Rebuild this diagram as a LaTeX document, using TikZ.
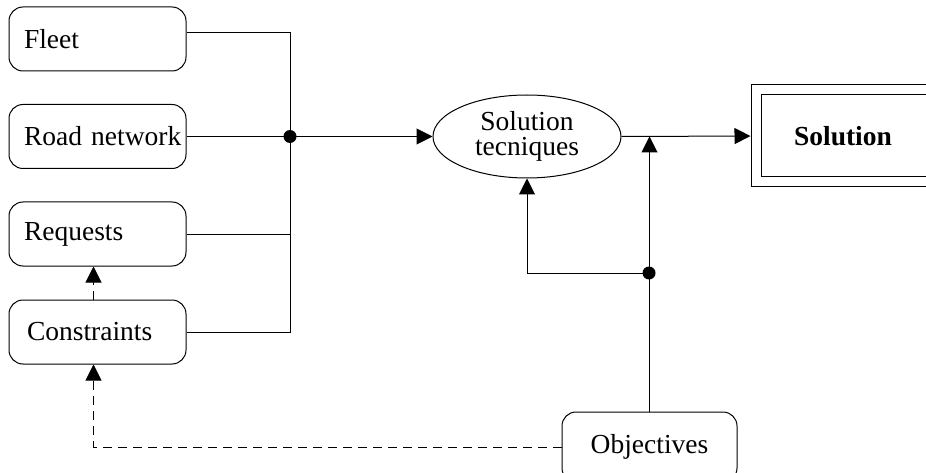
\documentclass[tikz,border=0pt]{standalone}
\usepackage{fontspec}
\setmainfont{Liberation Serif}
\usetikzlibrary{arrows.meta,shapes.geometric}
\begin{document}
\begin{tikzpicture}[x=1pt,y=-1pt,line width=1pt,
  font=\fontsize{27.5}{25}\selectfont,
  inbox/.style={draw,rounded corners=14pt,minimum width=177pt,minimum height=64pt,
    inner xsep=15pt,inner ysep=0pt,text width=147pt,align=left},
  objbox/.style={draw,rounded corners=14pt,minimum width=175pt,minimum height=70pt},
  tech/.style={draw,ellipse,minimum width=188pt,minimum height=83pt,inner sep=0pt,align=center},
  soltext/.style={minimum width=174pt,minimum height=92pt,outer sep=0pt,
    font=\fontsize{27.5}{25}\selectfont\bfseries},
  dbl/.style={draw,double,double distance=9pt},
  arr/.style={-{Triangle[length=16pt,width=16pt]}},
  dsh/.style={dash pattern=on 9pt off 6pt},
  dot/.style={circle,fill,inner sep=0pt,minimum size=13pt}]
\useasboundingbox (0,0) rectangle (926,473);
\node[inbox] (fleet) at (97.5,39) {Fleet};
\node[inbox] (road) at (97.5,136.5) {\mbox{Road network}};
\node[inbox] (req) at (97.5,234) {Requests};
\node[inbox] (con) at (97.5,332) {\hspace*{3pt}Constraints};
\node[tech] (tech) at (527,136.5) {Solution\\tecniques};
\node[soltext] (sol) at (843,136) {Solution};
\draw[dbl] (sol.south west) rectangle ([xshift=60pt]sol.north east);
\node[objbox] (obj) at (649.5,447) {Objectives};
\coordinate (J) at (290,136.5);
\coordinate (K) at (649,273);
\draw ([yshift=6pt]fleet.east) -| (J);
\draw (road.east) -- (J);
\draw (req.east) -| (J);
\draw (con.east) -| (J);
\draw[arr] (J) -- (tech.west);
\node[dot] at (J) {};
\draw[arr,shorten >=5.5pt] (tech.east) -- (sol.west);
\draw[arr] (obj.north) -- (obj.north |- tech.east);
\draw[arr] (K) -| (tech.south);
\node[dot] at (K) {};
\draw[arr,dsh] (obj.west) -| ([xshift=-4pt]con.south);
\draw[arr,dsh] ([xshift=-4pt]con.north) -- ([xshift=-4pt]req.south);
\end{tikzpicture}
\end{document}
